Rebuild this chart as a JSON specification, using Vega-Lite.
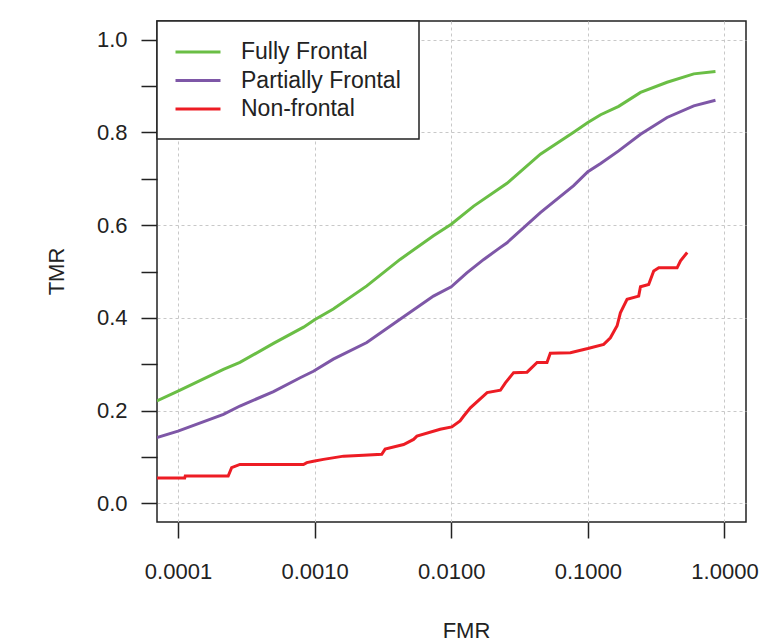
{
  "$schema": "https://vega.github.io/schema/vega-lite/v6.json",
  "width": 589,
  "height": 501,
  "autosize": {"type": "none"},
  "padding": {"left": 157, "top": 21, "right": 21, "bottom": 119},
  "background": "white",
  "config": {
    "font": "Liberation Sans",
    "view": {"stroke": "#222", "strokeWidth": 1.5}
  },
  "datasets": {
    "roc": [
      {"series": "Fully Frontal", "FMR": 0.00007, "TMR": 0.221},
      {"series": "Fully Frontal", "FMR": 0.0001, "TMR": 0.242},
      {"series": "Fully Frontal", "FMR": 0.000215, "TMR": 0.289},
      {"series": "Fully Frontal", "FMR": 0.000284, "TMR": 0.304},
      {"series": "Fully Frontal", "FMR": 0.0005, "TMR": 0.345},
      {"series": "Fully Frontal", "FMR": 0.00083, "TMR": 0.38},
      {"series": "Fully Frontal", "FMR": 0.001, "TMR": 0.396},
      {"series": "Fully Frontal", "FMR": 0.00137, "TMR": 0.419},
      {"series": "Fully Frontal", "FMR": 0.00241, "TMR": 0.469},
      {"series": "Fully Frontal", "FMR": 0.00422, "TMR": 0.526},
      {"series": "Fully Frontal", "FMR": 0.00741, "TMR": 0.577},
      {"series": "Fully Frontal", "FMR": 0.01, "TMR": 0.602},
      {"series": "Fully Frontal", "FMR": 0.0146, "TMR": 0.641},
      {"series": "Fully Frontal", "FMR": 0.0256, "TMR": 0.69},
      {"series": "Fully Frontal", "FMR": 0.0449, "TMR": 0.753},
      {"series": "Fully Frontal", "FMR": 0.0787, "TMR": 0.8},
      {"series": "Fully Frontal", "FMR": 0.1, "TMR": 0.821},
      {"series": "Fully Frontal", "FMR": 0.124, "TMR": 0.838},
      {"series": "Fully Frontal", "FMR": 0.168, "TMR": 0.856},
      {"series": "Fully Frontal", "FMR": 0.243, "TMR": 0.886},
      {"series": "Fully Frontal", "FMR": 0.38, "TMR": 0.908},
      {"series": "Fully Frontal", "FMR": 0.596, "TMR": 0.926},
      {"series": "Fully Frontal", "FMR": 0.859, "TMR": 0.931},
      {"series": "Partially Frontal", "FMR": 0.00007, "TMR": 0.142},
      {"series": "Partially Frontal", "FMR": 0.0001, "TMR": 0.156},
      {"series": "Partially Frontal", "FMR": 0.000215, "TMR": 0.192},
      {"series": "Partially Frontal", "FMR": 0.000284, "TMR": 0.21},
      {"series": "Partially Frontal", "FMR": 0.0005, "TMR": 0.241},
      {"series": "Partially Frontal", "FMR": 0.000784, "TMR": 0.271},
      {"series": "Partially Frontal", "FMR": 0.00098, "TMR": 0.285},
      {"series": "Partially Frontal", "FMR": 0.00137, "TMR": 0.311},
      {"series": "Partially Frontal", "FMR": 0.00241, "TMR": 0.347},
      {"series": "Partially Frontal", "FMR": 0.00422, "TMR": 0.397},
      {"series": "Partially Frontal", "FMR": 0.00741, "TMR": 0.447},
      {"series": "Partially Frontal", "FMR": 0.01, "TMR": 0.467},
      {"series": "Partially Frontal", "FMR": 0.013, "TMR": 0.497},
      {"series": "Partially Frontal", "FMR": 0.0173, "TMR": 0.526},
      {"series": "Partially Frontal", "FMR": 0.0229, "TMR": 0.552},
      {"series": "Partially Frontal", "FMR": 0.0256, "TMR": 0.562},
      {"series": "Partially Frontal", "FMR": 0.0449, "TMR": 0.627},
      {"series": "Partially Frontal", "FMR": 0.0787, "TMR": 0.685},
      {"series": "Partially Frontal", "FMR": 0.1, "TMR": 0.715},
      {"series": "Partially Frontal", "FMR": 0.124, "TMR": 0.733},
      {"series": "Partially Frontal", "FMR": 0.168, "TMR": 0.76},
      {"series": "Partially Frontal", "FMR": 0.243, "TMR": 0.796},
      {"series": "Partially Frontal", "FMR": 0.38, "TMR": 0.832},
      {"series": "Partially Frontal", "FMR": 0.596, "TMR": 0.857},
      {"series": "Partially Frontal", "FMR": 0.859, "TMR": 0.869},
      {"series": "Non-frontal", "FMR": 0.00007, "TMR": 0.055},
      {"series": "Non-frontal", "FMR": 0.000112, "TMR": 0.055},
      {"series": "Non-frontal", "FMR": 0.000113, "TMR": 0.059},
      {"series": "Non-frontal", "FMR": 0.000233, "TMR": 0.059},
      {"series": "Non-frontal", "FMR": 0.000247, "TMR": 0.077},
      {"series": "Non-frontal", "FMR": 0.000284, "TMR": 0.084},
      {"series": "Non-frontal", "FMR": 0.000828, "TMR": 0.084},
      {"series": "Non-frontal", "FMR": 0.000877, "TMR": 0.088},
      {"series": "Non-frontal", "FMR": 0.00098, "TMR": 0.091},
      {"series": "Non-frontal", "FMR": 0.00116, "TMR": 0.095},
      {"series": "Non-frontal", "FMR": 0.00163, "TMR": 0.102},
      {"series": "Non-frontal", "FMR": 0.00228, "TMR": 0.104},
      {"series": "Non-frontal", "FMR": 0.0031, "TMR": 0.106},
      {"series": "Non-frontal", "FMR": 0.00328, "TMR": 0.117},
      {"series": "Non-frontal", "FMR": 0.00448, "TMR": 0.127},
      {"series": "Non-frontal", "FMR": 0.0053, "TMR": 0.138},
      {"series": "Non-frontal", "FMR": 0.00561, "TMR": 0.145},
      {"series": "Non-frontal", "FMR": 0.0083, "TMR": 0.16},
      {"series": "Non-frontal", "FMR": 0.0101, "TMR": 0.165},
      {"series": "Non-frontal", "FMR": 0.0116, "TMR": 0.178},
      {"series": "Non-frontal", "FMR": 0.0123, "TMR": 0.188},
      {"series": "Non-frontal", "FMR": 0.0138, "TMR": 0.206},
      {"series": "Non-frontal", "FMR": 0.0183, "TMR": 0.239},
      {"series": "Non-frontal", "FMR": 0.0229, "TMR": 0.244},
      {"series": "Non-frontal", "FMR": 0.0249, "TMR": 0.26},
      {"series": "Non-frontal", "FMR": 0.0286, "TMR": 0.282},
      {"series": "Non-frontal", "FMR": 0.0359, "TMR": 0.283},
      {"series": "Non-frontal", "FMR": 0.0425, "TMR": 0.304},
      {"series": "Non-frontal", "FMR": 0.0502, "TMR": 0.304},
      {"series": "Non-frontal", "FMR": 0.0531, "TMR": 0.324},
      {"series": "Non-frontal", "FMR": 0.0745, "TMR": 0.325},
      {"series": "Non-frontal", "FMR": 0.1, "TMR": 0.334},
      {"series": "Non-frontal", "FMR": 0.1306, "TMR": 0.343},
      {"series": "Non-frontal", "FMR": 0.1462, "TMR": 0.357},
      {"series": "Non-frontal", "FMR": 0.1637, "TMR": 0.383},
      {"series": "Non-frontal", "FMR": 0.173, "TMR": 0.411},
      {"series": "Non-frontal", "FMR": 0.1936, "TMR": 0.44},
      {"series": "Non-frontal", "FMR": 0.2355, "TMR": 0.447},
      {"series": "Non-frontal", "FMR": 0.2427, "TMR": 0.467},
      {"series": "Non-frontal", "FMR": 0.2786, "TMR": 0.472},
      {"series": "Non-frontal", "FMR": 0.3034, "TMR": 0.501},
      {"series": "Non-frontal", "FMR": 0.3304, "TMR": 0.508},
      {"series": "Non-frontal", "FMR": 0.4498, "TMR": 0.508},
      {"series": "Non-frontal", "FMR": 0.4766, "TMR": 0.523},
      {"series": "Non-frontal", "FMR": 0.5334, "TMR": 0.541}
    ]
  },
  "data": {"name": "roc"},
  "mark": {"type": "line", "strokeWidth": 3, "clip": true},
  "encoding": {
    "x": {
      "field": "FMR",
      "type": "quantitative",
      "scale": {"type": "log", "domain": [0.0000702, 1.437], "nice": false},
      "axis": {
        "values": [0.0001, 0.001, 0.01, 0.1, 1],
        "format": ".4f",
        "domain": false,
        "tickSize": 16,
        "tickColor": "#222",
        "tickWidth": 1.5,
        "labelFontSize": 22,
        "labelColor": "#222",
        "labelBaseline": "alphabetic",
        "labelPadding": 40,
        "labelFlush": false,
        "labelOverlap": false,
        "grid": true,
        "gridColor": "#c8c8c8",
        "gridDash": [3, 3],
        "gridWidth": 1,
        "title": "FMR",
        "titleFontSize": 22,
        "titleFontWeight": "normal",
        "titleColor": "#222",
        "titleBaseline": "alphabetic",
        "titleX": 309,
        "titleY": 115
      }
    },
    "y": {
      "field": "TMR",
      "type": "quantitative",
      "scale": {"domain": [-0.04, 1.04], "nice": false, "zero": false},
      "axis": {
        "values": [0, 0.1, 0.2, 0.3, 0.4, 0.5, 0.6, 0.7, 0.8, 0.9, 1.0],
        "labelExpr": "round(datum.value*10) % 2 == 0 ? format(datum.value, '.1f') : ''",
        "domain": false,
        "tickSize": 16,
        "tickColor": "#222",
        "tickWidth": 1.5,
        "labelFontSize": 22,
        "labelColor": "#222",
        "labelPadding": 14,
        "labelBaseline": "middle",
        "labelOverlap": false,
        "labelFlush": false,
        "grid": true,
        "gridColor": "#c8c8c8",
        "gridDash": [3, 3],
        "gridWidth": 1,
        "gridOpacity": {"condition": {"test": "round(datum.value*10) % 2 == 0", "value": 1}, "value": 0},
        "title": "TMR",
        "titleFontSize": 22,
        "titleFontWeight": "normal",
        "titleColor": "#222",
        "titleAngle": 270,
        "titleBaseline": "alphabetic",
        "titleAlign": "center",
        "titleX": -94,
        "titleY": 250
      }
    },
    "color": {
      "field": "series",
      "type": "nominal",
      "scale": {
        "domain": ["Fully Frontal", "Partially Frontal", "Non-frontal"],
        "range": ["#6abe45", "#7e57a7", "#ed1c24"]
      },
      "legend": {
        "orient": "none",
        "legendX": 0,
        "legendY": 0,
        "title": null,
        "symbolType": "M-2,0H2",
        "symbolSize": 506,
        "symbolStrokeWidth": 3,
        "symbolFillColor": "transparent",
        "symbolOffset": 10,
        "labelFontSize": 23,
        "labelColor": "#222",
        "labelOffset": 30,
        "padding": 18,
        "rowPadding": 3.5,
        "strokeColor": "#222",
        "fillColor": "white",
        "encode": {
          "legend": {"update": {"strokeWidth": {"value": 1.5}}},
          "symbols": {"update": {"fill": {"value": "transparent"}}}
        }
      }
    }
  }
}
